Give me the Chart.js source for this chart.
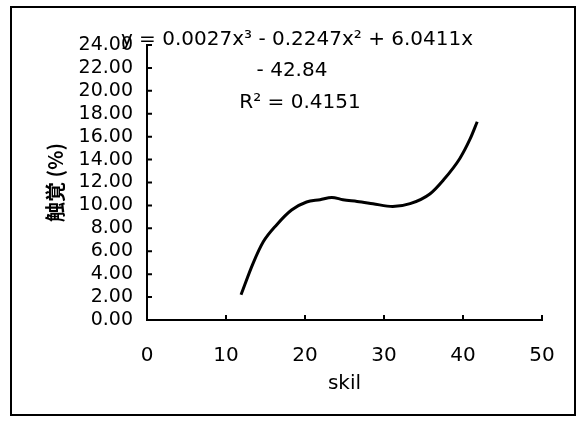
<!DOCTYPE html>
<html>
<head>
<meta charset="utf-8">
<script src="https://cdn.jsdelivr.net/npm/chart.js@4.4.0/dist/chart.umd.min.js"></script>
<style>
  html, body { margin: 0; padding: 0; background: #fff; }
  #wrap { width: 578px; height: 428px; }
</style>
</head>
<body>
<div id="wrap"><canvas id="grafico" width="578" height="428"></canvas></div>
<script>
// datos
var skil = [11.9, 13.4, 14.7, 16.4, 18.3, 20.2, 21.9, 23.4, 24.8, 26.6, 28.6, 31.1, 33.3, 35.8, 37.5, 39.6, 40.9, 41.8];
var tacto = [2.2, 4.9, 6.8, 8.3, 9.6, 10.3, 10.5, 10.7, 10.5, 10.35, 10.15, 9.9, 10.15, 11.0, 12.2, 14.1, 15.8, 17.3];
var xTicks = [0, 10, 20, 30, 40, 50];
var yTicks = [0, 2, 4, 6, 8, 10, 12, 14, 16, 18, 20, 22, 24];
var ecuacion = ['y = 0.0027x\u00b3 - 0.2247x\u00b2 + 6.0411x', '- 42.84', 'R\u00b2 = 0.4151'];

var puntos = skil.map(function (x, i) {
    return { x: x, y: tacto[i] };
});

// marco, marcas interiores y texto de la ecuacion
var extras = {
    id: 'extras',
    beforeDraw: function (chart) {
        var ctx = chart.ctx;
        ctx.save();
        ctx.fillStyle = '#fff';
        ctx.fillRect(0, 0, chart.width, chart.height);
        ctx.strokeStyle = '#000';
        ctx.lineWidth = 2;
        ctx.strokeRect(11, 7, 564, 408);
        ctx.restore();
    },
    afterDraw: function (chart) {
        var ctx = chart.ctx;
        var xs = chart.scales.x, ys = chart.scales.y;
        ctx.save();
        ctx.strokeStyle = '#000';
        ctx.lineWidth = 2;
        ctx.beginPath();
        yTicks.forEach(function (v) {
            var py = ys.getPixelForValue(v);
            ctx.moveTo(xs.left, py);
            ctx.lineTo(xs.left + 5, py);
        });
        xTicks.forEach(function (v) {
            var px = xs.getPixelForValue(v);
            ctx.moveTo(px, ys.bottom);
            ctx.lineTo(px, ys.bottom - 5);
        });
        ctx.stroke();

        ctx.fillStyle = '#000';
        ctx.font = '20px "DejaVu Sans"';
        ctx.textAlign = 'center';
        ctx.textBaseline = 'middle';
        ctx.fillText(ecuacion[0], 297, 40);
        ctx.fillText(ecuacion[1], 292, 71);
        ctx.fillText(ecuacion[2], 300, 103);
        ctx.restore();
    }
};

new Chart(document.getElementById('grafico'), {
    type: 'scatter',
    data: {
        datasets: [{
            data: puntos,
            showLine: true,
            borderColor: '#000',
            borderWidth: 3,
            pointRadius: 0,
            cubicInterpolationMode: 'monotone',
            fill: false
        }]
    },
    options: {
        responsive: false,
        animation: false,
        layout: { padding: { left: 0, top: 45, right: 36, bottom: 0 } },
        plugins: {
            legend: { display: false },
            tooltip: { enabled: false }
        },
        scales: {
            x: {
                type: 'linear',
                min: 0,
                max: 50,
                afterBuildTicks: function (s) {
                    s.ticks = xTicks.map(function (v) { return { value: v }; });
                },
                afterFit: function (s) { s.height = 108; },
                grid: { display: false },
                border: { display: true, color: '#000', width: 2 },
                ticks: {
                    color: '#000',
                    padding: 16,
                    maxRotation: 0,
                    autoSkip: false,
                    font: { family: 'DejaVu Sans', size: 20 }
                },
                title: {
                    display: true,
                    text: 'skil',
                    color: '#000',
                    padding: { top: 0, bottom: 32 },
                    font: { family: 'DejaVu Sans', size: 20 }
                }
            },
            y: {
                min: 0,
                max: 24,
                afterBuildTicks: function (s) {
                    s.ticks = yTicks.map(function (v) { return { value: v }; });
                },
                afterFit: function (s) { s.width = 147; },
                grid: { display: false },
                border: { display: true, color: '#000', width: 2 },
                ticks: {
                    color: '#000',
                    padding: 6,
                    autoSkip: false,
                    font: { family: 'DejaVu Sans', size: 19 },
                    callback: function (v) { return Number(v).toFixed(2); }
                },
                title: {
                    display: true,
                    text: '触覚 (%)',
                    color: '#000',
                    padding: { top: 43, bottom: 0 },
                    font: { family: 'Noto Sans CJK JP', size: 20, weight: 'bold' }
                }
            }
        }
    },
    plugins: [extras]
});
</script>
</body>
</html>
